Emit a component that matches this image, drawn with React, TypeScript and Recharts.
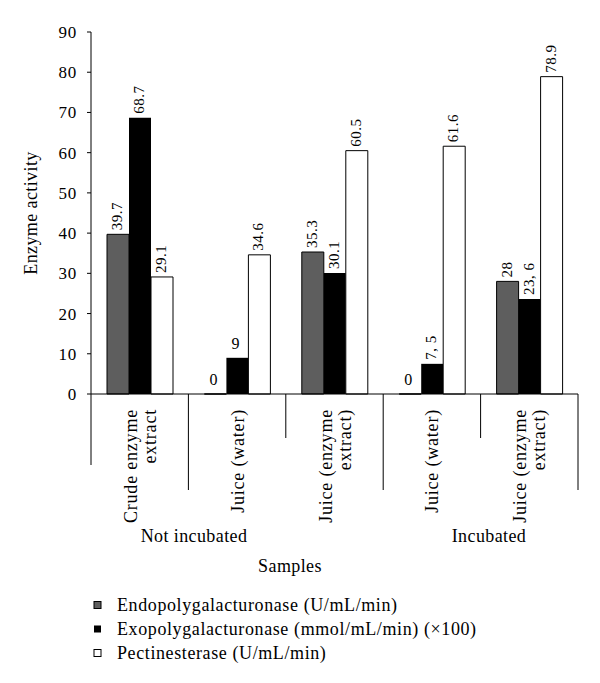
import { BarChart, Bar, XAxis, YAxis, LabelList, Legend, Customized } from 'recharts';

document.body.style.margin = '0';

const FONT = '"Liberation Serif", "Times New Roman", serif';

// sample names (lines of the rotated tick labels split on "\n")
const categories = [
    'Crude enzyme\nextract',
    'Juice (water)',
    'Juice (enzyme\nextract)',
    'Juice (water)',
    'Juice (enzyme\nextract)',
];

const endoValues = [39.7, 0, 35.3, 0, 28];
const exoValues = [68.7, 9, 30.1, 7.5, 23.6];
const pectValues = [29.1, 34.6, 60.5, 61.6, 78.9];

// labels as printed in the figure
const endoLabels = ['39.7', '0', '35.3', '0', '28'];
const exoLabels = ['68.7', '9', '30.1', '7, 5', '23, 6'];
const pectLabels = ['29.1', '34.6', '60.5', '61.6', '78.9'];

const yTicks = [0, 10, 20, 30, 40, 50, 60, 70, 80, 90];

const seriesNames = [
    'Endopolygalacturonase (U/mL/min)',
    'Exopolygalacturonase (mmol/mL/min) (\u00d7100)',
    'Pectinesterase (U/mL/min)',
];
const seriesFills = ['#5e5e5e', '#000000', '#ffffff'];

const groupLabels = ['Not incubated', 'Incubated'];

const data = categories.map((name, i) => ({
    name,
    endo: endoValues[i],
    exo: exoValues[i],
    pect: pectValues[i],
    endoLabel: endoLabels[i],
    exoLabel: exoLabels[i],
    pectLabel: pectLabels[i],
}));

const W = 600;
const H = 683;
const M = { top: 32, right: 22, left: 0, bottom: 0 };
const Y_W = 91;
const LEGEND_H = 95;
const X_H = H - 394 - LEGEND_H;
const BAND = (W - Y_W - M.right) / categories.length;
// lengths of the separator lines under the axis, left to right
const SEP_LEN = [71, 96, 44, 96, 44, 96];

const BarLabel = (props: any) => {
    const vb = props.viewBox || props;
    const x = vb.x ?? props.x;
    const y = vb.y ?? props.y;
    const w = vb.width ?? props.width;
    const t = String(props.value);
    const cx = x + w / 2;
    if (t.length === 1) {
        return (
            <text x={cx - 2} y={y - 9} textAnchor="middle" fontFamily={FONT} fontSize={16} fill="#000">
                {t}
            </text>
        );
    }
    return (
        <text
            transform={`translate(${cx + 4},${y - 4}) rotate(-90)`}
            textAnchor="start"
            fontFamily={FONT}
            fontSize={15}
            letterSpacing={0.5}
            fill="#000"
        >
            {t}
        </text>
    );
};

const CategoryTick = (props: any) => {
    const { x, y, payload, index } = props;
    const lines = String(payload.value).split('\n');
    const left = x - BAND / 2;
    const base = lines.length === 1 ? [x + 6.5] : [x - 3, x + 16];
    return (
        <g>
            <line x1={left} y1={y} x2={left} y2={y + SEP_LEN[index]} stroke="#000" />
            {index === categories.length - 1 && (
                <line x1={left + BAND} y1={y} x2={left + BAND} y2={y + SEP_LEN[index + 1]} stroke="#000" />
            )}
            {lines.map((l, k) => (
                <text
                    key={k}
                    transform={`translate(${base[k]},${y + 15}) rotate(-90)`}
                    textAnchor="end"
                    fontFamily={FONT}
                    fontSize={18}
                    letterSpacing={0.8}
                    fill="#000"
                >
                    {l}
                </text>
            ))}
        </g>
    );
};

const Annotations = () => (
    <g fontFamily={FONT} fontSize={18} fill="#000" letterSpacing={0.4}>
        <text transform="translate(37,213) rotate(-90)" textAnchor="middle">
            Enzyme activity
        </text>
        <text x={194} y={542} textAnchor="middle">
            {groupLabels[0]}
        </text>
        <text x={489} y={542} textAnchor="middle">
            {groupLabels[1]}
        </text>
        <text x={290} y={572} textAnchor="middle">
            Samples
        </text>
    </g>
);

const LegendBox = () => (
    <svg width={W} height={LEGEND_H} style={{ display: 'block' }}>
        {seriesNames.map((n, i) => (
            <g key={n}>
                <rect
                    x={94}
                    y={13.5 + i * 24}
                    width={7}
                    height={7}
                    fill={seriesFills[i]}
                    stroke={i === 1 ? 'none' : '#000'}
                    strokeWidth={1}
                />
                <text
                    x={117}
                    y={17 + i * 24}
                    dy="0.35em"
                    fontFamily={FONT}
                    fontSize={18}
                    letterSpacing={0.6}
                    fill="#000"
                >
                    {n}
                </text>
            </g>
        ))}
    </svg>
);

export default function App() {
    return (
        <BarChart width={W} height={H} data={data} margin={M} barSize={22} barGap={0}>
            <XAxis
                dataKey="name"
                height={X_H}
                interval={0}
                tickLine={false}
                tickSize={0}
                tickMargin={0}
                axisLine={{ stroke: '#000' }}
                tick={<CategoryTick />}
            />
            <YAxis
                width={Y_W}
                domain={[0, 90]}
                ticks={yTicks}
                interval={0}
                tickSize={4}
                tickMargin={10}
                axisLine={{ stroke: '#000' }}
                tickLine={{ stroke: '#000' }}
                tick={{ fill: '#000', fontSize: 17, fontFamily: FONT, letterSpacing: 0.8 }}
            />
            <Legend
                verticalAlign="bottom"
                height={LEGEND_H}
                wrapperStyle={{ left: 0, width: W }}
                content={<LegendBox />}
            />
            <Bar
                dataKey="endo"
                fill={seriesFills[0]}
                stroke="#000"
                strokeWidth={1}
                minPointSize={0.01}
                isAnimationActive={false}
            >
                <LabelList dataKey="endoLabel" content={<BarLabel />} />
            </Bar>
            <Bar dataKey="exo" fill={seriesFills[1]} isAnimationActive={false}>
                <LabelList dataKey="exoLabel" content={<BarLabel />} />
            </Bar>
            <Bar dataKey="pect" fill={seriesFills[2]} stroke="#000" strokeWidth={1} isAnimationActive={false}>
                <LabelList dataKey="pectLabel" content={<BarLabel />} />
            </Bar>
            <Customized component={Annotations} />
        </BarChart>
    );
}
